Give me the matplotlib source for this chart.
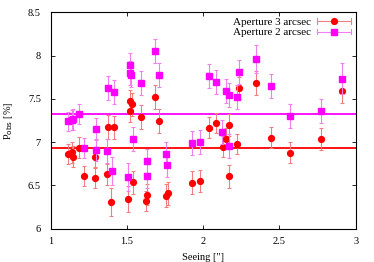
import numpy as np
import matplotlib.pyplot as plt
from matplotlib.lines import Line2D
from matplotlib.legend_handler import HandlerBase

plt.rcParams['font.family'] = ['Liberation Serif', 'DejaVu Serif']
plt.rcParams['font.size'] = 7.5

# Aperture 3 arcsec
seeing3 = [1.111, 1.142, 1.149, 1.186, 1.219, 1.291, 1.293, 1.378, 1.415, 1.369,
           1.398, 1.518, 1.520, 1.531, 1.505, 1.542, 1.595, 1.630, 1.627, 1.684,
           1.708, 1.758, 1.767, 1.929, 1.977, 2.040, 2.084, 2.128, 2.148, 2.167,
           2.172, 2.222, 2.233, 2.346, 2.447, 2.569, 2.773, 2.910]
pobs3 = [6.863, 6.882, 6.832, 6.936, 6.609, 6.589, 6.824, 7.175, 7.171, 6.628,
         6.308, 7.471, 7.364, 7.437, 6.339, 6.535, 7.287, 6.393, 6.320, 7.522,
         7.244, 6.381, 6.408, 6.532, 6.551, 7.167, 7.221, 6.948, 7.040, 7.198,
         6.605, 6.978, 7.626, 7.687, 7.052, 6.878, 7.036, 7.587]
err3 = [0.12, 0.12, 0.12, 0.12, 0.12, 0.12, 0.12, 0.14, 0.13, 0.12,
        0.16, 0.13, 0.13, 0.13, 0.15, 0.13, 0.14, 0.12, 0.12, 0.14,
        0.14, 0.13, 0.13, 0.13, 0.13, 0.12, 0.12, 0.12, 0.12, 0.13,
        0.13, 0.12, 0.13, 0.14, 0.12, 0.12, 0.13, 0.14]

# Aperture 2 arcsec
seeing2 = [1.114, 1.138, 1.149, 1.186, 1.221, 1.295, 1.295, 1.372, 1.378, 1.400,
           1.415, 1.505, 1.518, 1.520, 1.529, 1.540, 1.595, 1.630, 1.630, 1.684,
           1.710, 1.758, 1.765, 1.929, 1.977, 2.040, 2.086, 2.126, 2.148, 2.167,
           2.172, 2.222, 2.233, 2.346, 2.447, 2.569, 2.773, 2.910]
pobs2 = [7.240, 7.256, 7.263, 7.325, 6.932, 7.156, 6.905, 6.901, 7.622, 6.670,
         7.579, 6.597, 7.888, 7.795, 7.772, 7.036, 7.687, 6.778, 6.609, 8.053,
         7.772, 6.867, 6.740, 6.986, 7.005, 7.760, 7.699, 7.113, 7.591, 7.549,
         6.959, 7.525, 7.814, 7.957, 7.649, 7.302, 7.360, 7.733]
err2 = [0.11, 0.12, 0.12, 0.12, 0.12, 0.12, 0.12, 0.14, 0.14, 0.16,
        0.14, 0.16, 0.14, 0.14, 0.14, 0.14, 0.14, 0.14, 0.14, 0.14,
        0.14, 0.14, 0.14, 0.14, 0.14, 0.14, 0.14, 0.14, 0.14, 0.14,
        0.14, 0.14, 0.14, 0.16, 0.14, 0.14, 0.14, 0.18]

mean3 = 6.935
mean2 = 7.33


class GnuplotErrHandler(HandlerBase):
    # horizontal bar with end caps and the marker in the middle
    def __init__(self, marker, color, ecolor):
        super().__init__()
        self.marker, self.color, self.ecolor = marker, color, ecolor

    def create_artists(self, legend, orig_handle, xdescent, ydescent,
                       width, height, fontsize, trans):
        y = height / 2 - ydescent
        x0, x1 = -xdescent, width - xdescent
        cap = 2.0
        arts = [Line2D([x0, x1], [y, y], color=self.ecolor, lw=0.8),
                Line2D([x0, x0], [y - cap, y + cap], color=self.ecolor, lw=0.8),
                Line2D([x1, x1], [y - cap, y + cap], color=self.ecolor, lw=0.8),
                Line2D([(x0 + x1) / 2], [y], marker=self.marker, ms=4.2,
                       color=self.color, ls='none')]
        for a in arts:
            a.set_transform(trans)
        return arts


fig = plt.figure(figsize=(3.74, 2.62), dpi=100)
ax = fig.add_axes([0.1356, 0.127, 0.8154, 0.826])

ax.axhline(mean3, color='#ff0000', lw=1.3, zorder=1)
ax.axhline(mean2, color='#ff00ff', lw=1.3, zorder=1)

h3 = ax.errorbar(seeing3, pobs3, yerr=err3, fmt='o', color='#ff0000', ms=4.2,
                 ecolor='#f08080', elinewidth=0.8, capsize=1.5, capthick=0.8,
                 label='Aperture 3 arcsec', zorder=3)
h2 = ax.errorbar(seeing2, pobs2, yerr=err2, fmt='s', color='#ff00ff', ms=4.2,
                 ecolor='#f080f0', elinewidth=0.8, capsize=1.5, capthick=0.8,
                 label='Aperture 2 arcsec', zorder=4)

ax.set_xlim(1, 3)
ax.set_ylim(6, 8.5)
ax.set_xticks([1, 1.5, 2, 2.5, 3])
ax.set_xticklabels(['1', '1.5', '2', '2.5', '3'])
ax.set_yticks([6, 6.5, 7, 7.5, 8, 8.5])
ax.set_yticklabels(['6', '6.5', '7', '7.5', '8', '8.5'])
ax.tick_params(direction='in', top=True, right=True, length=3, width=0.6)
ax.tick_params(axis='x', pad=6)
ax.tick_params(axis='y', pad=7)
for s in ax.spines.values():
    s.set_linewidth(0.8)

ax.set_xlabel('Seeing ["]', labelpad=5)
ax.set_ylabel(r'P$_{\rm obs}$ [%]', labelpad=9)

ax.legend([h3, h2], ['Aperture 3 arcsec', 'Aperture 2 arcsec'],
          handler_map={h3: GnuplotErrHandler('o', '#ff0000', '#f08080'),
                       h2: GnuplotErrHandler('s', '#ff00ff', '#f080f0')},
          loc='upper right', frameon=False, markerfirst=False, handlelength=3.0,
          borderaxespad=0.2, borderpad=0.25, labelspacing=0.05, handletextpad=0.6,
          fontsize=8)

fig.savefig('out.png', dpi=100)
